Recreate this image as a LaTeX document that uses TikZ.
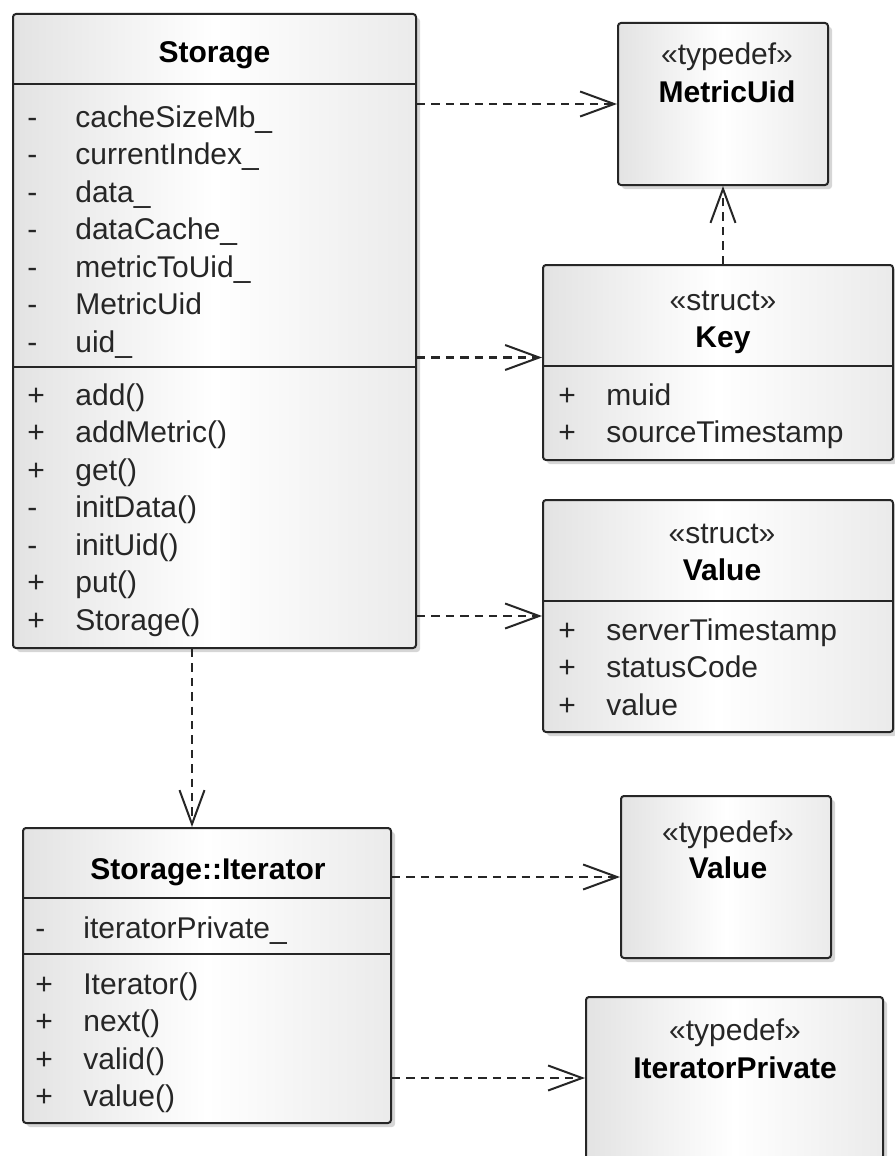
\documentclass[tikz,border=0pt]{standalone}
\usepackage{fontspec}
\setmainfont{Liberation Sans}
\usetikzlibrary{arrows.meta, fit, shadows}

\begin{document}
\begin{tikzpicture}[
		    x=0.5pt, y=-0.5pt,
		    every node/.style={inner sep=0pt, font=\fontsize{15}{18.75}\selectfont}
		]
		\tikzset{
		    classe/.style={draw=black!85, line width=1pt, rounded corners=1.5pt,
		      left color=black!11, right color=black!8, middle color=white,
		      drop shadow={shadow xshift=2pt, shadow yshift=-2pt, fill=black!35, opacity=0.45}},
		    divisa/.style={draw=black!85, line width=1pt},
		    nome/.style={anchor=base, font=\fontsize{15}{18.75}\selectfont\bfseries},
		    estereotipo/.style={anchor=base, text=black!85},
		    membros/.style={anchor=base west, text=black!85},
		    dependencia/.style={draw=black!85, line width=1.1pt, dash pattern=on 4.2pt off 3pt,
		      -{Straight Barb[length=17pt, width=12.5pt, line width=1pt]}}
		}
		\path[fill=white, use as bounding box] (0,0) rectangle (894,1156);

		% caixas
		\node[classe, fit={(13,14) (416,648)}] (storage) {};
		\node[classe, fit={(618,23) (828,185)}] (metric) {};
		\node[classe, fit={(543,265) (893,460)}] (key) {};
		\node[classe, fit={(543,500) (893,732)}] (valstruct) {};
		\node[classe, fit={(23,828) (391,1123)}] (iter) {};
		\node[classe, fit={(621,796) (831,958)}] (valtype) {};
		\node[classe, fit={(586,997) (883,1159)}] (itpriv) {};

		\draw[divisa] (13,84) -- (416,84);
		\draw[divisa] (13,367) -- (416,367);
		\draw[divisa] (543,366) -- (893,366);
		\draw[divisa] (543,601) -- (893,601);
		\draw[divisa] (23,898) -- (391,898);
		\draw[divisa] (23,954) -- (391,954);

		% Storage
		\node[nome] (storage-nome) at (214.5,63) {Storage};
		\node[membros] (storage-attr) at (27,127) {\begin{tabular}[t]{@{}p{24pt}@{}l@{}}
		    - & cacheSizeMb\_\\ - & currentIndex\_\\ - & data\_\\ - & dataCache\_\\
		    - & metricToUid\_\\ - & MetricUid\\ - & uid\_
		  \end{tabular}};
		\node[membros] (storage-oper) at (27,405) {\begin{tabular}[t]{@{}p{24pt}@{}l@{}}
		    + & add()\\ + & addMetric()\\ + & get()\\ - & initData()\\
		    - & initUid()\\ + & put()\\ + & Storage()
		  \end{tabular}};

		% MetricUid
		\node[estereotipo] (metric-tipo) at (727,65) {«typedef»};
		\node[nome] (metric-nome) at (727,103) {MetricUid};

		% Key
		\node[estereotipo] (key-tipo) at (723,310) {«struct»};
		\node[nome] (key-nome) at (723,347) {Key};
		\node[membros] (key-attr) at (558,405) {\begin{tabular}[t]{@{}p{24pt}@{}l@{}}
		    + & muid\\ + & sourceTimestamp
		  \end{tabular}};

		% Value (struct)
		\node[estereotipo] (valstruct-tipo) at (722,543) {«struct»};
		\node[nome] (valstruct-nome) at (722,580) {Value};
		\node[membros] (valstruct-attr) at (558,640) {\begin{tabular}[t]{@{}p{24pt}@{}l@{}}
		    + & serverTimestamp\\ + & statusCode\\ + & value
		  \end{tabular}};

		% Storage::Iterator
		\node[nome] (iter-nome) at (208,879) {Storage::Iterator};
		\node[membros] (iter-attr) at (35,938) {\begin{tabular}[t]{@{}p{24pt}@{}l@{}}
		    - & iteratorPrivate\_
		  \end{tabular}};
		\node[membros] (iter-oper) at (35,994) {\begin{tabular}[t]{@{}p{24pt}@{}l@{}}
		    + & Iterator()\\ + & next()\\ + & valid()\\ + & value()
		  \end{tabular}};

		% typedefs de baixo
		\node[estereotipo] (valtype-tipo) at (728,842) {«typedef»};
		\node[nome] (valtype-nome) at (728,878) {Value};
		\node[estereotipo] (itpriv-tipo) at (735,1040) {«typedef»};
		\node[nome] (itpriv-nome) at (735,1078) {IteratorPrivate};

		% dependencias
		\coordinate (entrada-key) at ([yshift=2.5pt]key.west);
		\coordinate (entrada-iter) at ([xshift=-7.5pt]iter.north);
		\draw[dependencia] (storage.east |- metric.west) -- (metric.west);
		\draw[dependencia] (key.north -| metric.south) -- (metric.south);
		\draw[dependencia] (storage.east |- entrada-key) -- (entrada-key);
		\draw[dependencia] (storage.east |- valstruct.west) -- (valstruct.west);
		\draw[dependencia] (storage.south -| entrada-iter) -- (entrada-iter);
		\draw[dependencia] (iter.east |- valtype.west) -- (valtype.west);
		\draw[dependencia] (iter.east |- itpriv.west) -- (itpriv.west);
		\end{tikzpicture}
\end{document}
